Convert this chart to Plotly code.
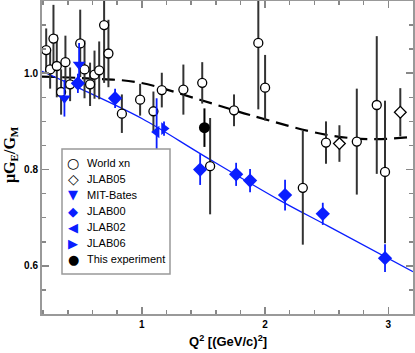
import plotly.graph_objects as go

# ---- data ----
world_q2 = [0.224, 0.256, 0.283, 0.31, 0.345, 0.38, 0.418, 0.50, 0.535, 0.58, 0.616, 0.654, 0.694, 0.729,
            0.838, 0.986, 1.094, 1.162, 1.337, 1.49, 1.554, 1.748, 1.945, 2.0, 2.306, 2.494, 2.744, 2.906, 2.973]
world_r = [1.048, 1.008, 1.072, 1.015, 0.961, 1.023, 0.977, 1.062, 1.008, 0.977, 0.997, 1.006, 1.10, 1.041,
           0.916, 0.945, 0.921, 0.965, 0.966, 0.98, 0.807, 0.923, 1.063, 0.970, 0.762, 0.856, 0.858, 0.934, 0.795]
world_err = [0.045, 0.04, 0.07, 0.065, 0.047, 0.055, 0.035, 0.07, 0.06, 0.045, 0.05, 0.06, 0.12, 0.07,
             0.04, 0.033, 0.041, 0.036, 0.052, 0.043, 0.1, 0.033, 0.138, 0.068, 0.118, 0.044, 0.11, 0.143, 0.148]

jlab05_q2 = [2.603, 3.097]
jlab05_r = [0.854, 0.919]
jlab05_err = [0.038, 0.05]

bates_q2 = [0.372, 0.491]
bates_r = [0.948, 1.018]
bates_err = [0.038, 0.045]

jlab00_q2 = [0.481, 0.783, 1.473, 1.765, 1.878, 2.162, 2.468, 2.973]
jlab00_r = [0.979, 0.948, 0.80, 0.790, 0.777, 0.747, 0.708, 0.616]
jlab00_err = [0.02, 0.02, 0.032, 0.024, 0.024, 0.032, 0.023, 0.029]

jlab02_q2 = [1.12]
jlab02_r = [0.878]
jlab02_err = [0.07]

jlab06_q2 = [1.18]
jlab06_r = [0.885]
jlab06_err = [0.015]

this_q2 = [1.508]
this_r = [0.887]
this_err = [0.04]

# fit curves
fit_blue_q2 = [0.19, 0.5, 1.0, 1.5, 2.12, 2.5, 3.2]
fit_blue_r = [1.004, 0.968, 0.906, 0.829, 0.736, 0.684, 0.588]
fit_dash_q2 = [0.19, 0.59, 0.97, 1.47, 1.88, 2.5, 2.88, 3.2]
fit_dash_r = [0.993, 0.989, 0.981, 0.945, 0.913, 0.872, 0.863, 0.868]

x_ticks = [1, 2, 3]
y_ticks = [0.6, 0.8, 1.0]
y_tick_text = ["0.6", "0.8", "1.0"]

legend_names = ["World xn", "JLAB05", "MIT-Bates", "JLAB00", "JLAB02", "JLAB06", "This experiment"]
legend_glyphs = ["○", "◇", "▼", "◆", "◀", "▶", "●"]

BLUE = "#0a1eff"
legend_colors = ["black", "black", BLUE, BLUE, BLUE, BLUE, "black"]

fig = go.Figure()

fig.add_trace(go.Scatter(x=fit_dash_q2, y=fit_dash_r, mode="lines", line_shape="spline",
                         line=dict(color="black", width=2.2, dash="13px,7px"), showlegend=False, hoverinfo="skip"))
fig.add_trace(go.Scatter(x=fit_blue_q2, y=fit_blue_r, mode="lines", line_shape="spline",
                         line=dict(color=BLUE, width=1.3), showlegend=False, hoverinfo="skip"))

def err(vals, color, w=1.8):
    return dict(type="data", array=vals, visible=True, color=color, thickness=w, width=0)

fig.add_trace(go.Scatter(x=world_q2, y=world_r, mode="markers", name=legend_names[0],
                         error_y=err(world_err, "#333333", 2),
                         marker=dict(symbol="circle", size=9, color="white", line=dict(color="black", width=1.3))))
fig.add_trace(go.Scatter(x=jlab05_q2, y=jlab05_r, mode="markers", name=legend_names[1],
                         error_y=err(jlab05_err, "#333333", 2),
                         marker=dict(symbol="diamond", size=9, color="white", line=dict(color="black", width=1.3))))
fig.add_trace(go.Scatter(x=bates_q2, y=bates_r, mode="markers", name=legend_names[2],
                         error_y=err(bates_err, BLUE),
                         marker=dict(symbol="triangle-down", size=11, color=BLUE, line=dict(width=0))))
fig.add_trace(go.Scatter(x=jlab00_q2, y=jlab00_r, mode="markers", name=legend_names[3],
                         error_y=err(jlab00_err, BLUE),
                         marker=dict(symbol="diamond", size=11, color=BLUE, line=dict(width=0))))
fig.add_trace(go.Scatter(x=jlab02_q2, y=jlab02_r, mode="markers", name=legend_names[4],
                         error_y=err(jlab02_err, BLUE),
                         marker=dict(symbol="triangle-left", size=11, color=BLUE, line=dict(width=0))))
fig.add_trace(go.Scatter(x=jlab06_q2, y=jlab06_r, mode="markers", name=legend_names[5],
                         error_y=err(jlab06_err, BLUE),
                         marker=dict(symbol="triangle-right", size=11, color=BLUE, line=dict(width=0))))
fig.add_trace(go.Scatter(x=this_q2, y=this_r, mode="markers", name=legend_names[6],
                         error_y=err(this_err, "black", 2),
                         marker=dict(symbol="circle", size=11, color="black", line=dict(width=0))))

axis_common = dict(showgrid=False, zeroline=False, showline=True, linecolor="#999999", linewidth=2,
                   mirror="allticks", ticks="inside", ticklen=7, tickwidth=1.5, tickcolor="#888888",
                   tickfont=dict(family="Liberation Sans, Arial", size=10, color="black"))

# ---- layout helpers (plot-area pixel fractions) ----
PW, PH, PL, PT = 371.0, 313.0, 42.0, 1.0
def px_x(px):
    return (px - PL) / PW
def px_y(py):
    return 1 - (py - PT) / PH

shapes = [dict(type="rect", xref="paper", yref="paper", x0=px_x(62), x1=px_x(170), y0=px_y(274), y1=px_y(149),
               line=dict(color="#999999", width=1.5), fillcolor="white", layer="above")]
annotations = []
for i, (name, glyph, col) in enumerate(zip(legend_names, legend_glyphs, legend_colors)):
    yc = 163 + 16 * i
    annotations.append(dict(xref="paper", yref="paper", x=px_x(73), y=px_y(yc), text=glyph, showarrow=False,
                            xanchor="center", yanchor="middle",
                            font=dict(family="DejaVu Sans", size=13 if glyph not in ("◇", "○") else 14, color=col)))
    annotations.append(dict(xref="paper", yref="paper", x=px_x(85), y=px_y(yc), text=name, showarrow=False,
                            xanchor="left", yanchor="middle",
                            font=dict(family="Liberation Sans, Arial", size=11, color="black")))

# axis titles
annotations.append(dict(xref="paper", yref="paper", x=px_x(228), y=px_y(341), text="<b>Q<sup>2</sup> [(GeV/c)<sup>2</sup>]</b>",
                        showarrow=False, xanchor="center", yanchor="middle",
                        font=dict(family="Liberation Sans, Arial", size=13, color="black")))
annotations.append(dict(xref="paper", yref="paper", x=px_x(11), y=px_y(155), text="<b>μG<sub>E</sub>/G<sub>M</sub></b>",
                        showarrow=False, xanchor="center", yanchor="middle", textangle=-90,
                        font=dict(family="Liberation Serif, Times New Roman", size=16, color="black")))

fig.update_layout(
    width=415, height=353,
    margin=dict(l=42, r=2, t=1, b=39, autoexpand=False),
    paper_bgcolor="white", plot_bgcolor="white",
    font=dict(family="Liberation Sans, Arial", color="black"),
    showlegend=False,
    xaxis=dict(range=[0.19, 3.2], tickvals=x_ticks, ticktext=["<b>%d</b>" % t for t in x_ticks],
               minor=dict(dtick=0.2, ticks="inside", ticklen=4, tickcolor="#888888", tickwidth=1.5),
               **axis_common),
    yaxis=dict(range=[0.5, 1.15], tickvals=y_ticks, ticktext=["<b>%s</b>" % t for t in y_tick_text],
               minor=dict(dtick=0.05, ticks="inside", ticklen=4, tickcolor="#888888", tickwidth=1.5),
               **axis_common),
    shapes=shapes,
    annotations=annotations,
)

fig.write_html("out.html", config={"displayModeBar": False, "staticPlot": True},
               post_script="document.body.style.margin='0';document.body.style.overflow='hidden';")
